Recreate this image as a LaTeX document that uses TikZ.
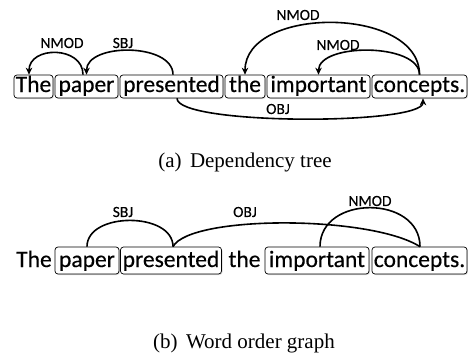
\documentclass[tikz,border=0pt]{standalone}
\usepackage{fontspec}
\setmainfont{Carlito}[FakeBold=0.4]
\newfontfamily\capfont{Liberation Serif}
\usetikzlibrary{arrows.meta,shadows,calc}
\begin{document}
\begin{tikzpicture}[x=1pt,y=-1pt,
  wordA/.style={font=\fontsize{23.5}{27}\selectfont, inner xsep=0pt, inner ysep=0pt, text height=17pt, text depth=6pt, align=center},
  wordB/.style={font=\fontsize{23.5}{27}\selectfont, inner xsep=0pt, inner ysep=0pt, text height=20pt, text depth=7pt, align=center},
  boxed/.style={draw, fill=white, rounded corners=3pt, line width=0.7pt, drop shadow={shadow xshift=1pt, shadow yshift=-1pt, opacity=0.3}},
  lab/.style={font=\fontsize{15.5}{18}\selectfont, inner sep=0pt},
  captext/.style={font=\capfont\fontsize{21}{24}\selectfont, inner sep=0pt, anchor=base},
  arc/.style={line width=1.6pt},
  arr/.style={arc, -{Stealth[length=7pt,width=6.5pt]}}]
\useasboundingbox (0,0) rectangle (468,354);
% ---- (a) dependency tree ----
\node[wordA, boxed, minimum width=39pt]  (t1) at (33.5,86.5) {The};
\node[wordA, boxed, minimum width=63pt]  (t2) at (86.5,86.5) {paper};
\node[wordA, boxed, minimum width=103pt] (t3) at (171.5,86.5) {presented};
\node[wordA, boxed, minimum width=40pt]  (t4) at (245,86.5) {the};
\node[wordA, boxed, minimum width=103pt] (t5) at (318.5,86.5) {important};
\node[wordA, boxed, minimum width=95pt]  (t6) at (419.5,86.5) {concepts.};

\draw[arr] ([xshift=-3.5pt]t2.north) .. controls +(0,-29) and +(0,-29) .. ([xshift=-4.5pt]t1.north);
\draw[arr] ([xshift=1.5pt]t3.north) .. controls +(0,-32) and +(0,-32) .. (t2.north);
\draw[arr] (t6.north) .. controls +(0,-69) and +(0,-69) .. (t4.north);
\draw[arr] (t6.north) .. controls +(0,-32) and +(0,-32) .. (t5.north);
\draw[arr] ([xshift=5.5pt]t3.south) .. controls +(0,27) and +(0,27) .. ([xshift=3.5pt]t6.south);

\node[lab] (l1) at (62,43) {NMOD};
\node[lab] (l2) at (123,43) {SBJ};
\node[lab] (l3) at (298,15) {NMOD};
\node[lab] (l4) at (338,45) {NMOD};
\node[lab] (l5) at (278,109) {OBJ};

\node[captext] (ca) at (245,167) {(a)\hspace{0.4em}Dependency tree};

% ---- (b) word order graph ----
\node[wordB, minimum width=32pt]         (b1) at (34,260.5) {The};
\node[wordB, boxed, minimum width=64pt]  (b2) at (87,260.5) {paper};
\node[wordB, boxed, minimum width=101pt] (b3) at (171,260.5) {presented};
\node[wordB, minimum width=38pt]         (b4) at (244.5,260.5) {the};
\node[wordB, boxed, minimum width=104pt] (b5) at (317,260.5) {important};
\node[wordB, boxed, minimum width=95pt]  (b6) at (419.5,260.5) {concepts.};

\draw[arc] (b2.north) .. controls +(0,-35) and +(0,-35) .. ([xshift=2pt]b3.north);
\draw[arc] ([xshift=2pt]b3.north) .. controls (190,215) and (370,215) .. ([xshift=0.5pt]b6.north);
\draw[arc] ([xshift=3pt]b5.north) .. controls +(0,-52) and +(0,-52) .. ([xshift=0.5pt]b6.north);

\node[lab] (m1) at (123,212) {SBJ};
\node[lab] (m2) at (245,212) {OBJ};
\node[lab] (m3) at (370,201) {NMOD};

\node[captext] (cb) at (244,348) {(b)\hspace{0.4em}Word order graph};
\end{tikzpicture}
\end{document}
